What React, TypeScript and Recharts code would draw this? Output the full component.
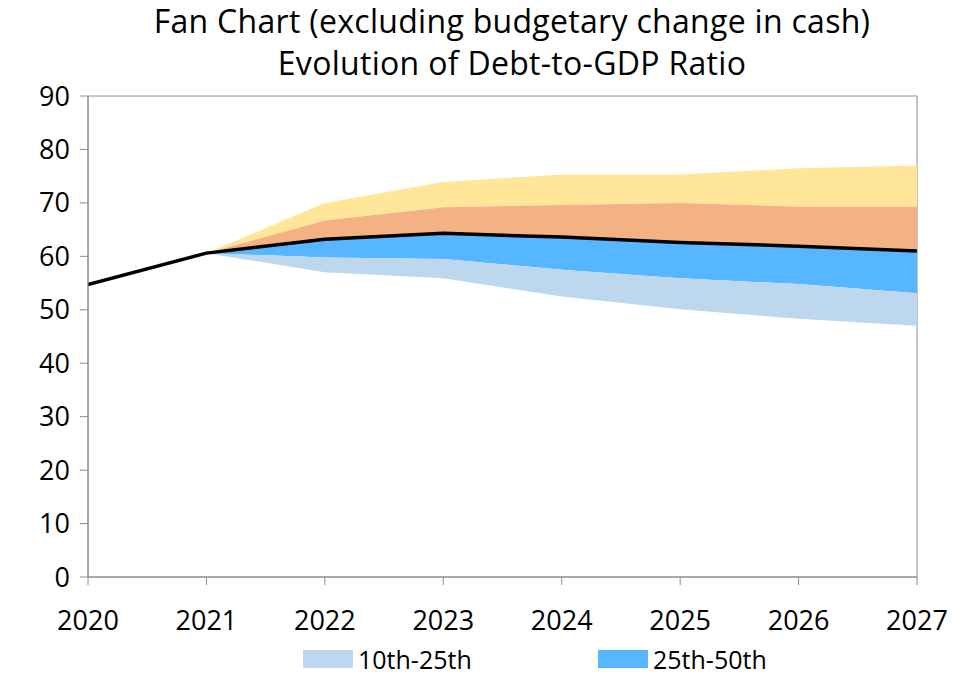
import React from "react";
import {
  ComposedChart, Area, Line, XAxis, YAxis, ReferenceArea,
} from "recharts";

// fan chart of debt-to-GDP percentiles
const years = [2020, 2021, 2022, 2023, 2024, 2025, 2026, 2027];
const p10 = [null, 60.6, 57.0, 55.9, 52.5, 50.1, 48.3, 47.0];
const p25 = [null, 60.6, 59.8, 59.5, 57.5, 55.9, 54.8, 53.1];
const median = [54.7, 60.6, 63.2, 64.3, 63.6, 62.6, 61.9, 61.0];
const p75 = [null, 60.6, 66.7, 69.2, 69.6, 70.0, 69.3, 69.3];
const p90 = [null, 60.6, 70.0, 73.9, 75.3, 75.3, 76.5, 77.0];
const yTicks = [0, 10, 20, 30, 40, 50, 60, 70, 80, 90];

if (typeof document !== "undefined") document.body.style.margin = "0";

const data = years.map((year, i) => ({
  year,
  low: p10[i] == null ? null : [p10[i], p25[i]],
  mid: p25[i] == null ? null : [p25[i], median[i]],
  high: p75[i] == null ? null : [median[i], p75[i]],
  top: p90[i] == null ? null : [p75[i], p90[i]],
  median: median[i],
}));

const FONT = "'Open Sans', 'Noto Sans', sans-serif";
const axisColor = "#8c8c8c";

export default function App() {
  return (
    <div style={{ position: "relative", width: 965, height: 677, background: "#fff", fontFamily: FONT }}>
      <div style={{
        position: "absolute", left: 0, width: 1024, top: 0, textAlign: "center",
        fontSize: 32, lineHeight: "42px", color: "#000", letterSpacing: 0.3,
      }}>
        Fan Chart (excluding budgetary change in cash)<br />Evolution of Debt-to-GDP Ratio
      </div>
      <ComposedChart
        width={965}
        height={677}
        data={data}
        margin={{ top: 96, right: 48, left: 28, bottom: 40 }}
      >
        <XAxis
          dataKey="year"
          type="number"
          domain={[2020, 2027]}
          ticks={years}
          height={60}
          tick={{ fill: "#000", fontSize: 27, fontFamily: FONT }}
          tickLine={{ stroke: axisColor }}
          tickSize={8}
          tickMargin={26}
          axisLine={{ stroke: axisColor }}
          allowDataOverflow
        />
        <YAxis
          type="number"
          domain={[0, 90]}
          ticks={yTicks}
          width={60}
          interval={0}
          tick={{ fill: "#000", fontSize: 27, fontFamily: FONT }}
          tickLine={{ stroke: axisColor }}
          tickSize={8}
          tickMargin={10}
          axisLine={{ stroke: axisColor }}
        />
        <ReferenceArea x1={2020} x2={2027} y1={0} y2={90} fill="none" stroke={axisColor} strokeWidth={1} ifOverflow="visible" />
        <Area dataKey="top" type="linear" fill="#FFE699" fillOpacity={1} stroke="none" isAnimationActive={false} />
        <Area dataKey="high" type="linear" fill="#F4B183" fillOpacity={1} stroke="none" isAnimationActive={false} />
        <Area dataKey="mid" type="linear" fill="#56B6FF" fillOpacity={1} stroke="none" isAnimationActive={false} />
        <Area dataKey="low" type="linear" fill="#BDD7EE" fillOpacity={1} stroke="none" isAnimationActive={false} />
        <Line dataKey="median" type="linear" stroke="#000" strokeWidth={3.5} dot={false} isAnimationActive={false} />
      </ComposedChart>
      <div style={{ position: "absolute", top: 646, left: 303, display: "flex", alignItems: "center", fontSize: 25, lineHeight: "26px" }}>
        <span style={{ width: 50, height: 18, background: "#BDD7EE", display: "inline-block", marginRight: 5 }} />
        <span style={{ width: 240 }}>10th-25th</span>
        <span style={{ width: 50, height: 18, background: "#56B6FF", display: "inline-block", marginRight: 5 }} />
        <span>25th-50th</span>
      </div>
    </div>
  );
}
